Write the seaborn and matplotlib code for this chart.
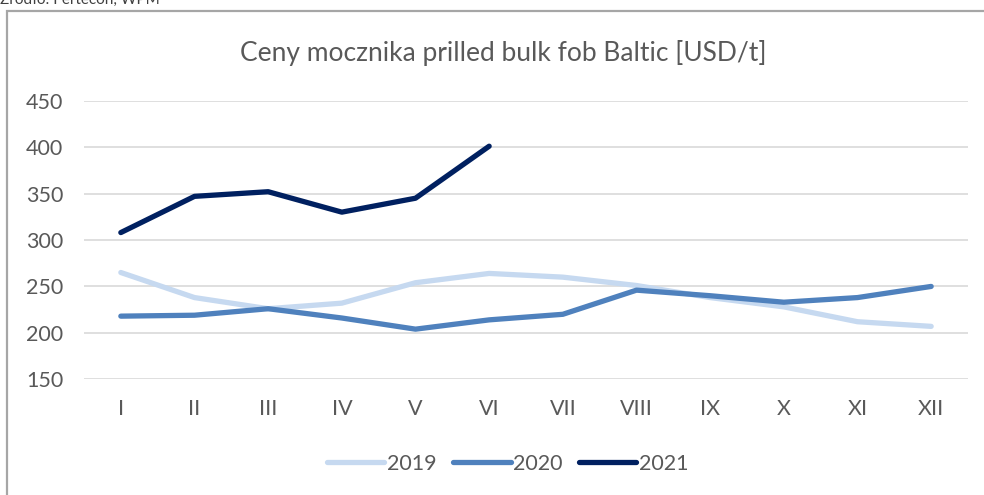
import pandas as pd
import seaborn as sns
import matplotlib.pyplot as plt
from matplotlib.patches import Rectangle

# Data (USD/t)
months = ['I', 'II', 'III', 'IV', 'V', 'VI', 'VII', 'VIII', 'IX', 'X', 'XI', 'XII']
prices_2019 = [265, 238, 226, 232, 254, 264, 260, 251, 238, 228, 212, 207]
prices_2020 = [218, 219, 226, 216, 204, 214, 220, 246, 240, 233, 238, 250]
prices_2021 = [308, 347, 352, 330, 345, 401]
years = ['2019', '2020', '2021']
colors = ['#c6d9f0', '#4f81bd', '#002060']

# Long format table for seaborn
rows = []
for year, vals in zip(years, [prices_2019, prices_2020, prices_2021]):
    for m, v in zip(months, vals):
        rows.append({'month': m, 'price': v, 'year': year})
df = pd.DataFrame(rows)
df['pos'] = df['month'].map({m: i for i, m in enumerate(months)})

sns.set_style('white')
plt.rcParams['font.family'] = ['Lato', 'DejaVu Sans']

fig = plt.figure(figsize=(9.84, 4.95), dpi=100)
ax = fig.add_axes([84 / 984, 1 - 379.3 / 495, 884 / 984, 278.6 / 495])

sns.lineplot(data=df, x='pos', y='price', hue='year', palette=dict(zip(years, colors)),
             linewidth=3.8, ax=ax, legend=False, solid_capstyle='round')

ax.set_xlim(-0.5, 11.5)
ax.set_ylim(150, 450)
ax.set_yticks(range(150, 451, 50))
ax.set_xticks(range(len(months)))
ax.set_xticklabels(months)
ax.yaxis.grid(True, color='#d9d9d9', linewidth=1.2)
ax.set_axisbelow(True)
ax.tick_params(axis='both', length=0, labelsize=15.5, labelcolor='#595959')
ax.tick_params(axis='y', pad=15)
ax.tick_params(axis='x', pad=14)
ax.set_xlabel('')
ax.set_ylabel('')
for s in ax.spines.values():
    s.set_visible(False)

# Title and source note
fig.text(0.511, 0.893, 'Ceny mocznika prilled bulk fob Baltic [USD/t]',
         ha='center', va='center', fontsize=19, color='#595959')
fig.text(0.0, 1 - 4 / 495, 'Źródło: Fertecon, WPM', ha='left', va='baseline',
         fontsize=11, color='#404040')

# Chart frame
fig.patches.append(Rectangle((7 / 984, -0.1), 1.2, 1 - 11 / 495 + 0.1,
                             transform=fig.transFigure, fill=False,
                             edgecolor='#a6a6a6', linewidth=1.6))

handles = [plt.Line2D([], [], color=c, linewidth=3.8, solid_capstyle='round') for c in colors]
fig.legend(handles, years, loc='center', bbox_to_anchor=(0.516, 0.0626), ncol=3,
           frameon=False, fontsize=15.5, labelcolor='#595959', handlelength=2.65,
           handletextpad=0.1, columnspacing=0.8)

plt.savefig('out.png', dpi=100)
